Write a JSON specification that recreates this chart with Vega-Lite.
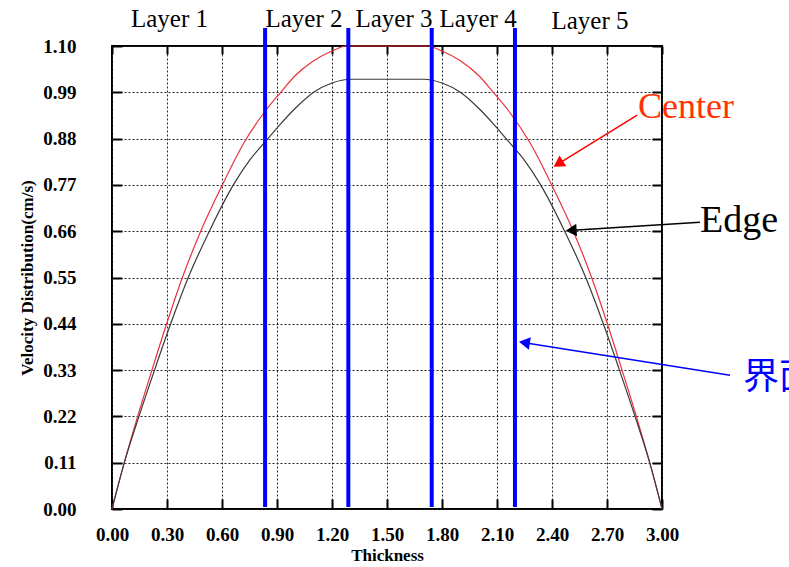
{
  "$schema": "https://vega.github.io/schema/vega-lite/v6.json",
  "width": 550,
  "height": 463,
  "autosize": "none",
  "padding": {"left": 112, "top": 46, "right": 127, "bottom": 58},
  "background": "white",
  "config": {"view": {"stroke": "#000", "strokeWidth": 2}, "font": "Liberation Serif"},
  "datasets": {
    "curves": [
      {"x": 0, "v": 0, "series": "Center"},
      {"x": 0.067, "v": 0.11, "series": "Center"},
      {"x": 0.140, "v": 0.22, "series": "Center"},
      {"x": 0.218, "v": 0.33, "series": "Center"},
      {"x": 0.298, "v": 0.44, "series": "Center"},
      {"x": 0.384, "v": 0.55, "series": "Center"},
      {"x": 0.484, "v": 0.66, "series": "Center"},
      {"x": 0.602, "v": 0.77, "series": "Center"},
      {"x": 0.72, "v": 0.87, "series": "Center"},
      {"x": 0.835, "v": 0.945, "series": "Center"},
      {"x": 0.92, "v": 0.99, "series": "Center"},
      {"x": 1.0, "v": 1.03, "series": "Center"},
      {"x": 1.1, "v": 1.065, "series": "Center"},
      {"x": 1.2, "v": 1.088, "series": "Center"},
      {"x": 1.28, "v": 1.10, "series": "Center"},
      {"x": 1.72, "v": 1.10, "series": "Center"},
      {"x": 1.8, "v": 1.088, "series": "Center"},
      {"x": 1.9, "v": 1.065, "series": "Center"},
      {"x": 2.0, "v": 1.03, "series": "Center"},
      {"x": 2.08, "v": 0.99, "series": "Center"},
      {"x": 2.165, "v": 0.945, "series": "Center"},
      {"x": 2.28, "v": 0.87, "series": "Center"},
      {"x": 2.398, "v": 0.77, "series": "Center"},
      {"x": 2.516, "v": 0.66, "series": "Center"},
      {"x": 2.616, "v": 0.55, "series": "Center"},
      {"x": 2.702, "v": 0.44, "series": "Center"},
      {"x": 2.782, "v": 0.33, "series": "Center"},
      {"x": 2.860, "v": 0.22, "series": "Center"},
      {"x": 2.933, "v": 0.11, "series": "Center"},
      {"x": 3.0, "v": 0, "series": "Center"},
      {"x": 0, "v": 0, "series": "Edge"},
      {"x": 0.067, "v": 0.11, "series": "Edge"},
      {"x": 0.147, "v": 0.22, "series": "Edge"},
      {"x": 0.232, "v": 0.33, "series": "Edge"},
      {"x": 0.320, "v": 0.44, "series": "Edge"},
      {"x": 0.416, "v": 0.55, "series": "Edge"},
      {"x": 0.531, "v": 0.66, "series": "Edge"},
      {"x": 0.662, "v": 0.77, "series": "Edge"},
      {"x": 0.753, "v": 0.83, "series": "Edge"},
      {"x": 0.835, "v": 0.872, "series": "Edge"},
      {"x": 0.92, "v": 0.915, "series": "Edge"},
      {"x": 1.0, "v": 0.952, "series": "Edge"},
      {"x": 1.1, "v": 0.99, "series": "Edge"},
      {"x": 1.2, "v": 1.012, "series": "Edge"},
      {"x": 1.30, "v": 1.021, "series": "Edge"},
      {"x": 1.70, "v": 1.021, "series": "Edge"},
      {"x": 1.8, "v": 1.012, "series": "Edge"},
      {"x": 1.9, "v": 0.99, "series": "Edge"},
      {"x": 2.0, "v": 0.952, "series": "Edge"},
      {"x": 2.08, "v": 0.915, "series": "Edge"},
      {"x": 2.165, "v": 0.872, "series": "Edge"},
      {"x": 2.247, "v": 0.83, "series": "Edge"},
      {"x": 2.338, "v": 0.77, "series": "Edge"},
      {"x": 2.469, "v": 0.66, "series": "Edge"},
      {"x": 2.584, "v": 0.55, "series": "Edge"},
      {"x": 2.680, "v": 0.44, "series": "Edge"},
      {"x": 2.768, "v": 0.33, "series": "Edge"},
      {"x": 2.853, "v": 0.22, "series": "Edge"},
      {"x": 2.933, "v": 0.11, "series": "Edge"},
      {"x": 3.0, "v": 0, "series": "Edge"}
    ],
    "bounds": [
      {"x": 0.835, "y0": 0.005, "y1": 1.143},
      {"x": 1.289, "y0": 0.005, "y1": 1.143},
      {"x": 1.744, "y0": 0.005, "y1": 1.143},
      {"x": 2.198, "y0": 0.005, "y1": 1.143}
    ],
    "arrows": [
      {"name": "Center", "x": 2.865, "y": 0.936, "xh": 2.4426, "yh": 0.8225, "angle": 238.2},
      {"name": "Edge", "x": 3.207, "y": 0.681, "xh": 2.5145, "yh": 0.6623, "angle": 266.4},
      {"name": "界面", "x": 3.371, "y": 0.318, "xh": 2.2593, "yh": 0.3946, "angle": 278.9}
    ],
    "notes": [
      {"group": "layer", "text": "Layer 1", "x": 0.3136, "y": 1.145},
      {"group": "layer", "text": "Layer 2", "x": 1.047, "y": 1.145},
      {"group": "layer", "text": "Layer 3", "x": 1.538, "y": 1.145},
      {"group": "layer", "text": "Layer 4", "x": 1.997, "y": 1.145},
      {"group": "layer", "text": "Layer 5", "x": 2.607, "y": 1.140},
      {"group": "Center", "text": "Center", "x": 2.869, "y": 0.929},
      {"group": "Edge", "text": "Edge", "x": 3.207, "y": 0.659},
      {"group": "界面", "text": "界面", "x": 3.442, "y": 0.311}
    ]
  },
  "layer": [
    {
      "data": {"name": "curves"},
      "mark": {"type": "line", "strokeWidth": 1.2, "interpolate": "monotone"},
      "encoding": {
        "x": {
          "field": "x", "type": "quantitative",
          "scale": {"domain": [0, 3], "nice": false, "zero": false},
          "axis": {
            "orient": "bottom", "values": [0, 0.3, 0.6, 0.9, 1.2, 1.5, 1.8, 2.1, 2.4, 2.7, 3.0],
            "format": ".2f", "title": "Thickness",
            "labelFont": "Liberation Serif", "labelFontWeight": "bold", "labelFontSize": 19, "labelColor": "#000",
            "labelFlush": false, "labelOverlap": false, "labelBound": false,
            "tickColor": "#000", "tickSize": -10, "tickWidth": 2, "labelPadding": 26,
            "grid": true, "gridColor": "#222", "gridDash": [2, 2], "gridWidth": 1, "gridOpacity": 1,
            "domain": false,
            "titleFont": "Liberation Serif", "titleFontSize": 17, "titleFontWeight": "bold", "titleColor": "#000", "titlePadding": 3
          }
        },
        "y": {
          "field": "v", "type": "quantitative",
          "scale": {"domain": [0, 1.1], "nice": false, "zero": false},
          "axis": {
            "orient": "left", "values": [0, 0.11, 0.22, 0.33, 0.44, 0.55, 0.66, 0.77, 0.88, 0.99, 1.1],
            "format": ".2f", "title": "Velocity Distribution(cm/s)",
            "labelFont": "Liberation Serif", "labelFontWeight": "bold", "labelFontSize": 19, "labelColor": "#000",
            "labelFlush": false, "labelOverlap": false, "labelBound": false,
            "tickColor": "#000", "tickSize": -10, "tickWidth": 2, "labelPadding": 46,
            "grid": true, "gridColor": "#222", "gridDash": [2, 2], "gridWidth": 1, "gridOpacity": 1,
            "domain": false,
            "titleFont": "Liberation Serif", "titleFontSize": 17, "titleFontWeight": "bold", "titleColor": "#000", "titlePadding": 6
          }
        },
        "color": {"field": "series", "type": "nominal", "scale": {"domain": ["Center", "Edge"], "range": ["#e8323c", "#3a3a3a"]}, "legend": null}
      }
    },
    {
      "data": {"name": "bounds"},
      "mark": {"type": "rule", "color": "#0000ff", "strokeWidth": 4},
      "encoding": {
        "x": {
          "field": "x", "type": "quantitative",
          "axis": {"orient": "top", "values": [0, 0.3, 0.6, 0.9, 1.2, 1.5, 1.8, 2.1, 2.4, 2.7, 3.0], "labels": false, "title": null, "grid": false, "domain": false, "tickSize": -8, "tickWidth": 2, "tickColor": "#000"}
        },
        "y": {
          "field": "y0", "type": "quantitative",
          "axis": {"orient": "right", "values": [0, 0.11, 0.22, 0.33, 0.44, 0.55, 0.66, 0.77, 0.88, 0.99, 1.1], "labels": false, "title": null, "grid": false, "domain": false, "tickSize": -10, "tickWidth": 2, "tickColor": "#000"}
        },
        "y2": {"field": "y1"}
      }
    },
    {
      "data": {"name": "arrows"},
      "transform": [{"filter": "datum.name === 'Center'"}],
      "mark": {"type": "rule", "color": "#ff0000", "strokeWidth": 1.5},
      "encoding": {
        "x": {"field": "x", "type": "quantitative", "axis": null},
        "y": {"field": "y", "type": "quantitative", "axis": null},
        "x2": {"field": "xh"},
        "y2": {"field": "yh"}
      }
    },
    {
      "data": {"name": "arrows"},
      "transform": [{"filter": "datum.name === 'Edge'"}],
      "mark": {"type": "rule", "color": "#000000", "strokeWidth": 1.5},
      "encoding": {
        "x": {"field": "x", "type": "quantitative", "axis": null},
        "y": {"field": "y", "type": "quantitative", "axis": null},
        "x2": {"field": "xh"},
        "y2": {"field": "yh"}
      }
    },
    {
      "data": {"name": "arrows"},
      "transform": [{"filter": "datum.name === '界面'"}],
      "mark": {"type": "rule", "color": "#0000ff", "strokeWidth": 1.5},
      "encoding": {
        "x": {"field": "x", "type": "quantitative", "axis": null},
        "y": {"field": "y", "type": "quantitative", "axis": null},
        "x2": {"field": "xh"},
        "y2": {"field": "yh"}
      }
    },
    {
      "data": {"name": "arrows"},
      "transform": [{"filter": "datum.name === 'Center'"}],
      "mark": {"type": "point", "shape": "triangle", "filled": true, "color": "#ff0000", "size": 160, "opacity": 1},
      "encoding": {
        "x": {"field": "xh", "type": "quantitative", "axis": null},
        "y": {"field": "yh", "type": "quantitative", "axis": null},
        "angle": {"field": "angle", "type": "quantitative", "scale": null}
      }
    },
    {
      "data": {"name": "arrows"},
      "transform": [{"filter": "datum.name === 'Edge'"}],
      "mark": {"type": "point", "shape": "triangle", "filled": true, "color": "#000000", "size": 160, "opacity": 1},
      "encoding": {
        "x": {"field": "xh", "type": "quantitative", "axis": null},
        "y": {"field": "yh", "type": "quantitative", "axis": null},
        "angle": {"field": "angle", "type": "quantitative", "scale": null}
      }
    },
    {
      "data": {"name": "arrows"},
      "transform": [{"filter": "datum.name === '界面'"}],
      "mark": {"type": "point", "shape": "triangle", "filled": true, "color": "#0000ff", "size": 160, "opacity": 1},
      "encoding": {
        "x": {"field": "xh", "type": "quantitative", "axis": null},
        "y": {"field": "yh", "type": "quantitative", "axis": null},
        "angle": {"field": "angle", "type": "quantitative", "scale": null}
      }
    },
    {
      "data": {"name": "notes"},
      "transform": [{"filter": "datum.group === 'layer'"}],
      "mark": {"type": "text", "font": "Liberation Serif", "fontSize": 25, "color": "#000", "align": "center", "baseline": "alphabetic"},
      "encoding": {
        "x": {"field": "x", "type": "quantitative", "axis": null},
        "y": {"field": "y", "type": "quantitative", "axis": null},
        "text": {"field": "text"}
      }
    },
    {
      "data": {"name": "notes"},
      "transform": [{"filter": "datum.group === 'Center'"}],
      "mark": {"type": "text", "font": "Liberation Serif", "fontSize": 36, "color": "#ff3300", "align": "left", "baseline": "alphabetic"},
      "encoding": {
        "x": {"field": "x", "type": "quantitative", "axis": null},
        "y": {"field": "y", "type": "quantitative", "axis": null},
        "text": {"field": "text"}
      }
    },
    {
      "data": {"name": "notes"},
      "transform": [{"filter": "datum.group === 'Edge'"}],
      "mark": {"type": "text", "font": "Liberation Serif", "fontSize": 38, "color": "#000", "align": "left", "baseline": "alphabetic"},
      "encoding": {
        "x": {"field": "x", "type": "quantitative", "axis": null},
        "y": {"field": "y", "type": "quantitative", "axis": null},
        "text": {"field": "text"}
      }
    },
    {
      "data": {"name": "notes"},
      "transform": [{"filter": "datum.group === '界面'"}],
      "mark": {"type": "text", "font": "Noto Sans CJK SC", "fontSize": 36, "color": "#0000ff", "align": "left", "baseline": "middle"},
      "encoding": {
        "x": {"field": "x", "type": "quantitative", "axis": null},
        "y": {"field": "y", "type": "quantitative", "axis": null},
        "text": {"field": "text"}
      }
    }
  ]
}
